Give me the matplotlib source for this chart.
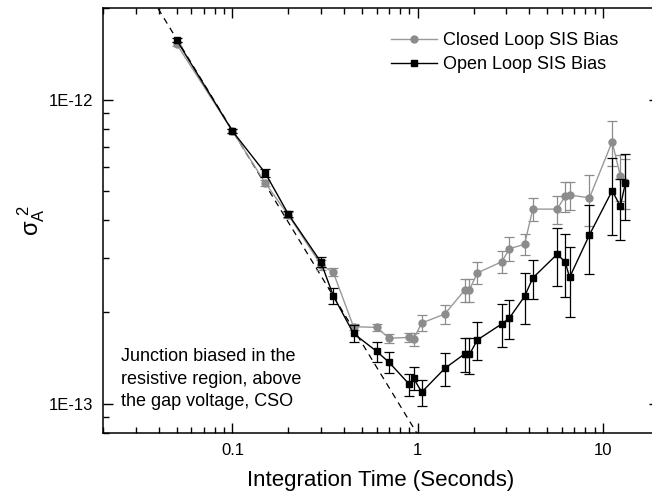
import numpy as np
import matplotlib
matplotlib.use('Agg')
import matplotlib.pyplot as plt
from matplotlib.lines import Line2D
from matplotlib.ticker import FixedLocator, LogLocator, FuncFormatter, NullFormatter

plt.rcParams['font.family'] = ['Liberation Sans', 'DejaVu Sans']
plt.rcParams['mathtext.fontset'] = 'custom'
plt.rcParams['mathtext.rm'] = 'Liberation Sans'
plt.rcParams['mathtext.it'] = 'Liberation Sans'

## Integration times (seconds)
tau = [0.05, 0.1, 0.15, 0.2, 0.3, 0.35, 0.45, 0.6, 0.7, 0.9, 0.95, 1.05, 1.4,
       1.8, 1.9, 2.1, 2.85, 3.12, 3.77, 4.18, 5.66, 6.25, 6.6, 8.45, 11.2, 12.4, 13.2]

## Allan variance, closed loop bias
closed = [1.52e-12, 7.87e-13, 5.32e-13, 4.17e-13, 2.86e-13, 2.70e-13, 1.79e-13,
          1.78e-13, 1.64e-13, 1.65e-13, 1.63e-13, 1.84e-13, 1.97e-13, 2.37e-13,
          2.37e-13, 2.69e-13, 2.93e-13, 3.23e-13, 3.34e-13, 4.36e-13, 4.36e-13,
          4.82e-13, 4.85e-13, 4.75e-13, 7.26e-13, 5.61e-13, 5.36e-13]
closed_err = [2.3e-14, 1.2e-14, 1.2e-14, 9.5e-15, 1.1e-14, 8.2e-15, 4e-15,
              5.1e-15, 5.6e-15, 5.9e-15, 8.2e-15, 1.08e-14, 1.4e-14, 2.06e-14,
              2.06e-14, 2.24e-14, 2.43e-14, 2.93e-14, 2.65e-14, 3.85e-14, 4.6e-14,
              5.5e-14, 5.1e-14, 9.0e-14, 1.23e-13, 9.8e-14, 1.01e-13]

## Allan variance, open loop bias
opened = [1.567e-12, 7.87e-13, 5.74e-13, 4.2e-13, 2.92e-13, 2.26e-13, 1.70e-13,
          1.485e-13, 1.366e-13, 1.157e-13, 1.21e-13, 1.09e-13, 1.305e-13, 1.46e-13,
          1.45e-13, 1.62e-13, 1.83e-13, 1.91e-13, 2.25e-13, 2.59e-13, 3.1e-13,
          2.92e-13, 2.6e-13, 3.59e-13, 5.01e-13, 4.46e-13, 5.3e-13]
opened_err = [2.4e-14, 1.2e-14, 1.7e-14, 9.5e-15, 1.1e-14, 1.33e-14, 1.07e-14,
              1.12e-14, 1.1e-14, 9.6e-15, 1.05e-14, 1.09e-14, 1.6e-14, 1.88e-14,
              1.97e-14, 2.33e-14, 2.9e-14, 2.79e-14, 4.3e-14, 3.86e-14, 6.7e-14,
              6.8e-14, 6.8e-14, 9.2e-14, 1.42e-13, 1.0e-13, 1.3e-13]

## Radiometer (1/t) line
fit_const = 7.9e-14
fit_t = [0.01, 2.0]

fig = plt.figure(figsize=(6.52, 4.93), dpi=100)
# right edge goes a bit past the figure, the original is cropped there
ax = fig.add_axes([103 / 652, 60 / 493, 555.8 / 652, 425 / 493])

gray = '#8c8c8c'
gray_line = '#999999'
ax.errorbar(tau, closed, yerr=closed_err, color=gray_line, ecolor=gray, lw=1.0,
            elinewidth=0.9, capsize=3.5, capthick=0.9, marker='o', ms=5,
            mec=gray, mfc=gray, zorder=3)
ax.errorbar(tau, opened, yerr=opened_err, color='black', ecolor='black', lw=1.0,
            elinewidth=0.9, capsize=3.5, capthick=0.9, marker='s', ms=5,
            zorder=4)

fit_y = [fit_const / t for t in fit_t]
ax.plot(fit_t, fit_y, color='black', lw=0.9, ls=(0, (5, 4)), zorder=2)

ax.set_xscale('log')
ax.set_yscale('log')
ax.set_xlim(0.02, 20)
ax.set_ylim(8e-14, 2e-12)

ax.xaxis.set_major_locator(FixedLocator([0.1, 1, 10]))
ax.xaxis.set_major_formatter(FuncFormatter(lambda v, p: '%g' % v))
ax.xaxis.set_minor_locator(LogLocator(base=10, subs=np.arange(2, 10)))
ax.xaxis.set_minor_formatter(NullFormatter())
ax.yaxis.set_major_locator(FixedLocator([1e-13, 1e-12]))
ax.yaxis.set_major_formatter(FuncFormatter(lambda v, p: '1E%d' % round(np.log10(v))))
ax.yaxis.set_minor_locator(LogLocator(base=10, subs=np.arange(2, 10)))
ax.yaxis.set_minor_formatter(NullFormatter())

ax.tick_params(which='both', direction='in', top=True, right=True, width=1.0,
               labelsize=12)
ax.tick_params(which='major', length=7.5, pad=7)
ax.tick_params(which='minor', length=4)
for s in ax.spines.values():
    s.set_linewidth(1.1)

ax.set_xlabel('Integration Time (Seconds)', fontsize=16)
ax.xaxis.set_label_coords(0.5, -0.088)
ax.set_ylabel(r'$\sigma_{A}^{\ 2}$', fontsize=17)
ax.yaxis.set_label_coords(-0.1, 0.5)

ax.text(0.032, 0.126, 'Junction biased in the\nresistive region, above\nthe gap voltage, CSO',
        transform=ax.transAxes, fontsize=13, ha='left', va='center', linespacing=1.42)

handles = [
    Line2D([], [], color=gray_line, lw=1.0, marker='o', ms=5, mec=gray, mfc=gray),
    Line2D([], [], color='black', lw=1.0, marker='s', ms=5),
]
labels = ['Closed Loop SIS Bias', 'Open Loop SIS Bias']
ax.legend(handles, labels, loc='upper left', bbox_to_anchor=(0.519, 0.943),
          frameon=False, fontsize=13, handlelength=2.5, handletextpad=0.37,
          labelspacing=0.38, borderpad=0, borderaxespad=0)

fig.savefig('out.png', dpi=100)
